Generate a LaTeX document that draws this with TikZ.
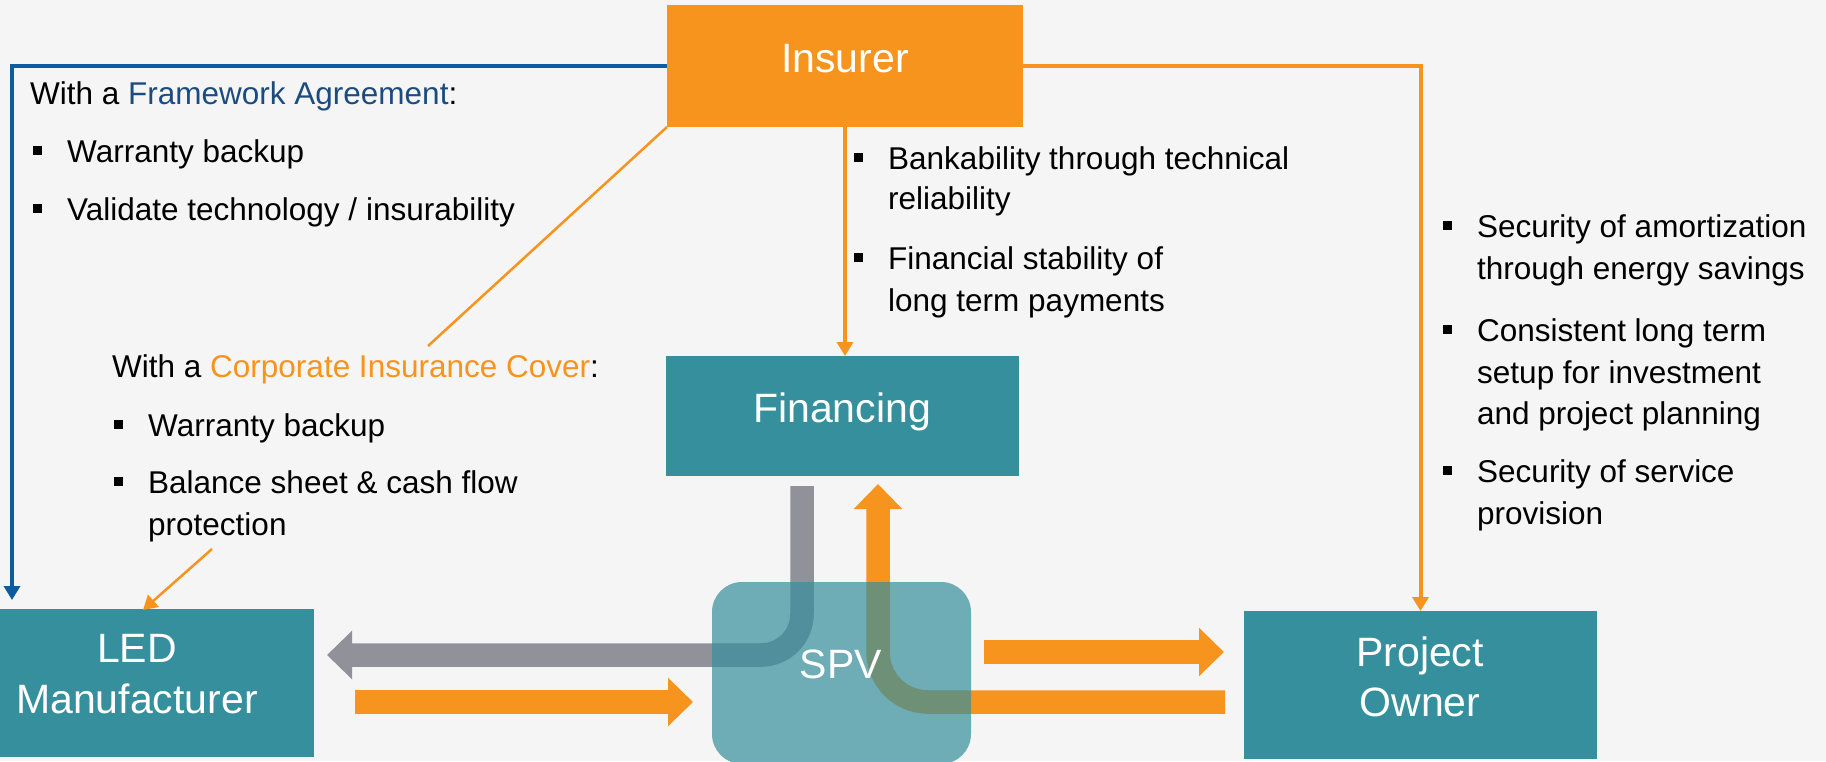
\documentclass[tikz,border=0pt]{standalone}
\usepackage{fontspec}
\setmainfont{Liberation Sans}
\usetikzlibrary{arrows.meta}

\definecolor{bgc}{RGB}{245,245,245}
\definecolor{brand}{RGB}{247,148,30}
\definecolor{tealbox}{RGB}{53,143,156}
\definecolor{flowgray}{RGB}{145,145,154}
\definecolor{lineblue}{RGB}{12,92,162}
\definecolor{fwblue}{RGB}{28,76,126}

\newcommand\txtbody{\fontsize{31.5}{38}\selectfont}
\newcommand\txtbox{\fontsize{41}{50}\selectfont}
% square bullet followed by the hanging indent
\newcommand\bsq{\makebox[34pt][l]{\rule[7.5pt]{9pt}{9pt}}}

\begin{document}
\begin{tikzpicture}[x=1pt,y=-1pt,
  box/.style={fill=#1,draw=none,inner sep=0pt,outer sep=0pt,anchor=north west},
  boxtxt/.style={text=white,font=\txtbox,anchor=base,inner sep=0pt},
  txtline/.style={anchor=base west,inner sep=0pt,font=\txtbody},
  thinline/.style={line width=4pt},
  tip/.style={-{Triangle[length=14pt,width=16pt]}},
  fat/.style={line width=23.5pt,-{Triangle[length=25pt,width=47pt]}}
]
\useasboundingbox (0,0) rectangle (1826,761);
\clip (0,0) rectangle (1826,761);
\fill[bgc] (0,0) rectangle (1826,761);

% main boxes
\node[box=brand,minimum width=356pt,minimum height=122pt] (ins) at (667,5) {};
\node[box=tealbox,minimum width=353pt,minimum height=120pt] (fin) at (666,356) {};
\node[box=tealbox,minimum width=314pt,minimum height=148pt] (led) at (0,609) {};
\node[box=tealbox,minimum width=353pt,minimum height=148pt] (po) at (1244,611) {};

\node[boxtxt] (ins-t) at (845,72) {Insurer};
\node[boxtxt] (fin-t) at (842,422) {Financing};
\node[boxtxt] (led-t1) at (137,662) {LED};
\node[boxtxt] (led-t2) at (137,713) {Manufacturer};
\node[boxtxt] (po-t1) at (1420,666) {Project};
\node[boxtxt] (po-t2) at (1420,716) {Owner};

% thin connectors from the insurer
\coordinate (blueend) at (12,600);
\draw[thinline,lineblue,tip] (ins.west) -| (blueend);
\draw[thinline,brand,tip] (ins.east) -| (po.north);
\draw[thinline,brand,tip] (ins.south) -- (ins.south |- fin.north);
\coordinate (diagend) at (428,346);
\draw[line width=2.5pt,brand] (ins.south west) -- (diagend);
\coordinate (cistart) at (212,549);
\coordinate (ciend) at (143,610);
\draw[line width=2.5pt,brand,tip] (cistart) -- (ciend);

% texts: framework agreement
\node[txtline] (fwh) at (30,104) {With a {\color{fwblue}Framework Agreement}:};
\node[txtline] (fw1) at (33,162) {\bsq Warranty backup};
\node[txtline] (fw2) at (33,220) {\bsq Validate technology / insurability};

% texts: financing
\node[txtline] (fn1a) at (854,169) {\bsq Bankability through technical};
\node[txtline] (fn1b) at (888,209) {reliability};
\node[txtline] (fn2a) at (854,269) {\bsq Financial stability of};
\node[txtline] (fn2b) at (888,311) {long term payments};

% texts: corporate insurance cover
\node[txtline] (cih) at (112,377) {With a {\color{brand}Corporate Insurance Cover}:};
\node[txtline] (ci1) at (114,436) {\bsq Warranty backup};
\node[txtline] (ci2a) at (114,493) {\bsq Balance sheet \& cash flow};
\node[txtline] (ci2b) at (148,535) {protection};

% texts: project owner
\node[txtline] (po1a) at (1443,237) {\bsq Security of amortization};
\node[txtline] (po1b) at (1477,279) {through energy savings};
\node[txtline] (po2a) at (1443,341) {\bsq Consistent long term};
\node[txtline] (po2b) at (1477,383) {setup for investment};
\node[txtline] (po2c) at (1477,424) {and project planning};
\node[txtline] (po3a) at (1443,482) {\bsq Security of service};
\node[txtline] (po3b) at (1477,524) {provision};

% broad flow arrows through the SPV
\coordinate (g0) at (802,486);
\coordinate (g1) at (802,655);
\coordinate (g2) at (327,655);
\draw[fat,flowgray,rounded corners=41pt] (g0) -- (g1) -- (g2);

\coordinate (o0) at (1225,702);
\coordinate (o1) at (878,702);
\coordinate (o2) at (878,484);
\draw[fat,brand,rounded corners=50pt] (o0) -- (o1) -- (o2);

\coordinate (l0) at (355,702);
\coordinate (l1) at (693,702);
\draw[fat,brand] (l0) -- (l1);

\coordinate (p0) at (984,652);
\coordinate (p1) at (1224,652);
\draw[fat,brand] (p0) -- (p1);

% translucent SPV on top of the flows
\node[box=tealbox,fill opacity=0.7,rounded corners=30pt,minimum width=259pt,minimum height=182pt] (spv) at (712,582) {};
\node[boxtxt] (spv-t) at (841,678) {SPV};
\end{tikzpicture}
\end{document}
